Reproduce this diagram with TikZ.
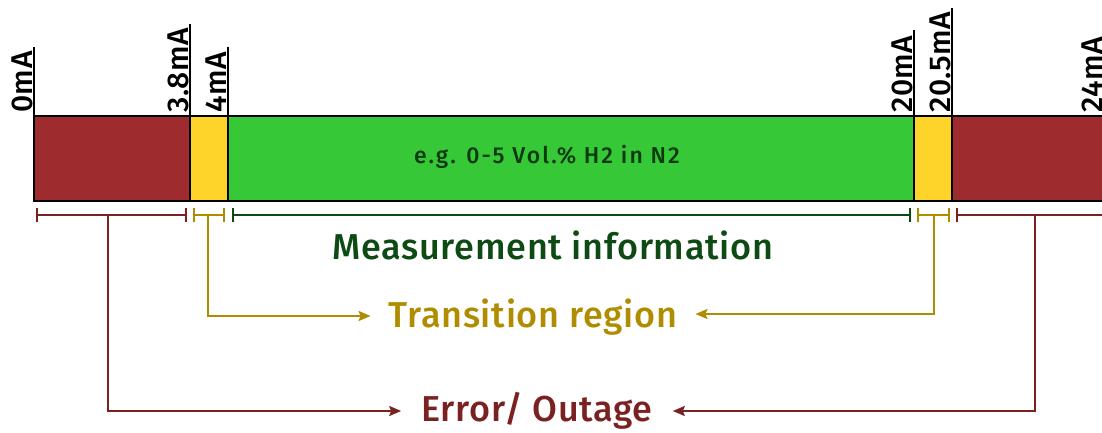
\documentclass[tikz,border=0pt]{standalone}
\usepackage{fontspec}
\setmainfont{Fira Sans Medium}[LetterSpace=2]
\usetikzlibrary{arrows.meta}
\definecolor{errbar}{HTML}{9E2B2D}
\definecolor{trbar}{HTML}{FFD42A}
\definecolor{msbar}{HTML}{37C837}
\definecolor{errline}{HTML}{7A2222}
\definecolor{trline}{HTML}{B08D00}
\definecolor{msline}{HTML}{0E4A14}
\definecolor{egtext}{HTML}{0B3A10}
\tikzset{
  seg/.style={draw=black, line width=2.4pt},
  tickline/.style={draw=black, line width=1.6pt},
  ticklabel/.style={rotate=90, anchor=south west, inner sep=1pt, font=\fontsize{30}{30}\selectfont},
  brk/.style={line width=1.8pt, {Bar[width=14pt]}-{Bar[width=14pt]}},
  conn/.style={line width=2.2pt, -{Stealth[length=12pt,width=10pt,inset=2pt]}},
  bigtext/.style={font=\fontsize{36}{36}\selectfont, inner sep=0pt}
}
\begin{document}
\begin{tikzpicture}[x=1pt,y=-1pt]
\useasboundingbox (0,0) rectangle (1102,433);
\clip (0,0) rectangle (1102,433);
% bars
\fill[errbar] (34,116) rectangle (190,201);
\fill[trbar] (190,116) rectangle (228,201);
\fill[msbar] (228,116) rectangle (914,201);
\fill[trbar] (914,116) rectangle (952,201);
\fill[errbar] (952,116) rectangle (1104,201);
\draw[seg] (34,116) rectangle (1104,201);
\foreach \x in {190,228,914,952} \draw[tickline] (\x,116) -- (\x,201);
% tick lines
\draw[tickline] (34,116) -- (34,47);
\draw[tickline] (190,116) -- (190,24);
\draw[tickline] (228,116) -- (228,47);
\draw[tickline] (914,116) -- (914,30);
\draw[tickline] (952,116) -- (952,8);
% tick labels
\node[ticklabel] (l0) at (34,114) {0mA};
\node[ticklabel] (l38) at (190,114) {3.8mA};
\node[ticklabel] (l4) at (228,114) {4mA};
\node[ticklabel] (l20) at (914,114) {20mA};
\node[ticklabel] (l205) at (952,114) {20.5mA};
\node[ticklabel] (l24) at (1104,114) {24mA};
% bar text
\node[text=egtext, font=\fontsize{23}{23}\selectfont\addfontfeatures{LetterSpace=9}] (eg) at (547,157) {e.g. 0-5 Vol.\% H2 in N2};
% brackets
\draw[brk, errline] (36,215) -- (187,215);
\draw[brk, trline] (193,215) -- (225,215);
\draw[brk, msline] (232,215) -- (911,215);
\draw[brk, trline] (917,215) -- (950,215);
\draw[brk, errline] (956,215) -- (1110,215);
\coordinate (eL) at (108,215);
\coordinate (tL) at (208,215);
\coordinate (tR) at (934,215);
\coordinate (eR) at (1035,215);
% texts
\node[bigtext, text=msline] (meas) at (553,245) {Measurement information};
\node[bigtext, text=trline] (trans) at (533,317) {Transition region};
\node[bigtext, text=errline] (err) at (537,411) {Error/ Outage};
% connectors
\draw[conn, trline] (tL) |- ([xshift=-18pt,yshift=1pt]trans.west);
\draw[conn, trline] (tR) |- ([xshift=18pt,yshift=3pt]trans.east);
\draw[conn, errline] (eL) |- ([xshift=-20pt]err.west);
\draw[conn, errline] (eR) |- ([xshift=20pt]err.east);
\end{tikzpicture}
\end{document}
